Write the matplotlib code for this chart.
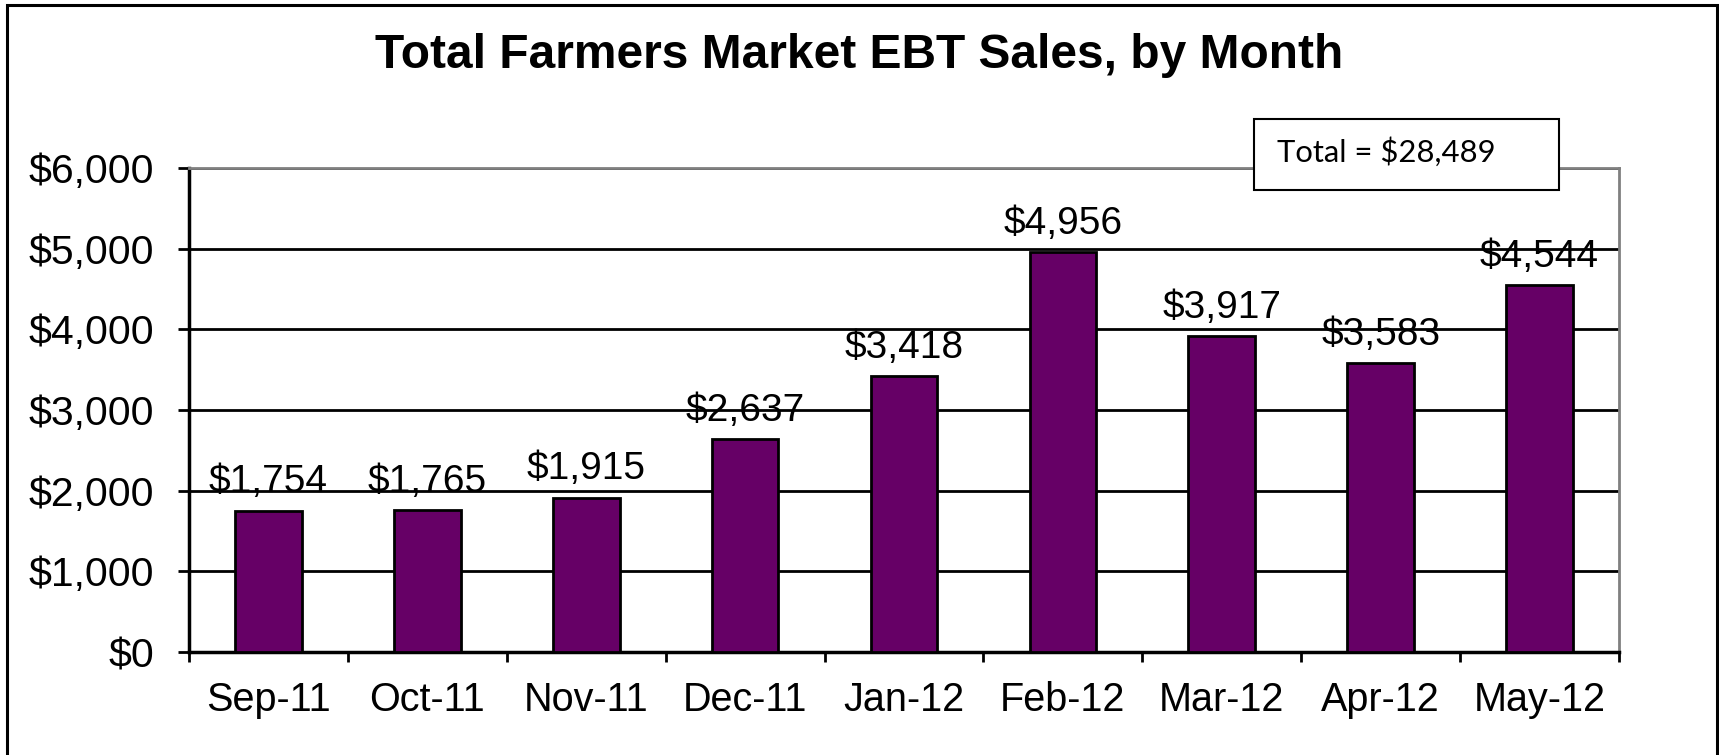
import matplotlib
matplotlib.use('Agg')
import matplotlib.pyplot as plt
from matplotlib.patches import Rectangle
from matplotlib.ticker import FuncFormatter, FixedLocator
import numpy as np

#------------------------------------------------------------------------#
# Data
#------------------------------------------------------------------------#
months = ['Sep-11', 'Oct-11', 'Nov-11', 'Dec-11', 'Jan-12',
          'Feb-12', 'Mar-12', 'Apr-12', 'May-12']
sales = [1754, 1765, 1915, 2637, 3418, 4956, 3917, 3583, 4544]
total_label = 'Total = $28,489'
y_ticks = [0, 1000, 2000, 3000, 4000, 5000, 6000]

plt.rcParams['font.family'] = ['Liberation Sans', 'DejaVu Sans']

W, H = 1719, 755
fig = plt.figure(figsize=(W / 100, H / 100), dpi=100)
fig.patch.set_facecolor('white')

# plot area (pixel box converted to figure fraction)
ax = fig.add_axes([189 / W, 1 - 652 / H, (1619 - 189) / W, (652 - 168) / H])

x = np.arange(len(months))
ax.bar(x, sales, width=0.42, color='#660066', edgecolor='black',
       linewidth=2, zorder=3)

ax.set_xlim(-0.5, len(months) - 0.5)
ax.set_ylim(0, 6000)

# y axis
ax.set_yticks(y_ticks)
ax.yaxis.set_major_formatter(FuncFormatter(lambda v, p: '${:,.0f}'.format(v)))
ax.tick_params(axis='y', which='major', length=8, width=2, direction='out',
               pad=17, labelsize=29.5, color='black')
ax.yaxis.grid(True, color='black', linewidth=2)
ax.set_axisbelow(True)

# x axis: ticks on the boundaries, labels in the middle
ax.xaxis.set_major_locator(FixedLocator(np.arange(-0.5, len(months), 1.0)))
ax.xaxis.set_minor_locator(FixedLocator(x))
ax.set_xticklabels([], minor=False)
ax.set_xticklabels(months, minor=True)
ax.tick_params(axis='x', which='major', length=7.5, width=2, direction='out')
ax.tick_params(axis='x', which='minor', length=0, pad=21, labelsize=28.5)

for side in ['left', 'bottom']:
    ax.spines[side].set_color('black')
    ax.spines[side].set_linewidth(2.5)
for side in ['top', 'right']:
    ax.spines[side].set_color('#808080')
    ax.spines[side].set_linewidth(2)

# value labels
for xi, v in zip(x, sales):
    ax.annotate('${:,}'.format(v), (xi, v), xytext=(0, 13),
                textcoords='offset points', ha='center', va='baseline',
                fontsize=28, zorder=4)

# title
fig.text(0.5, 1 - 68 / H, 'Total Farmers Market EBT Sales, by Month',
         ha='center', va='baseline', fontsize=34.5, fontweight='bold')

# total box
fig.patches.append(Rectangle((1254 / W, 1 - 190 / H), (1559 - 1254) / W,
                             (190 - 119) / H, transform=fig.transFigure,
                             facecolor='white', edgecolor='black',
                             linewidth=1.5, zorder=1))
fig.text(1277 / W, 1 - 162 / H, total_label, ha='left', va='baseline',
         fontsize=22.3, family=['Lato', 'DejaVu Sans'], zorder=3)

# outer frame (bottom edge runs off the picture)
fig.patches.append(Rectangle((7 / W, -0.05), (1717 - 7) / W,
                             1.05 - 5 / H, transform=fig.transFigure,
                             fill=False, edgecolor='black', linewidth=2.2,
                             zorder=1))

plt.savefig('out.png', dpi=100)
